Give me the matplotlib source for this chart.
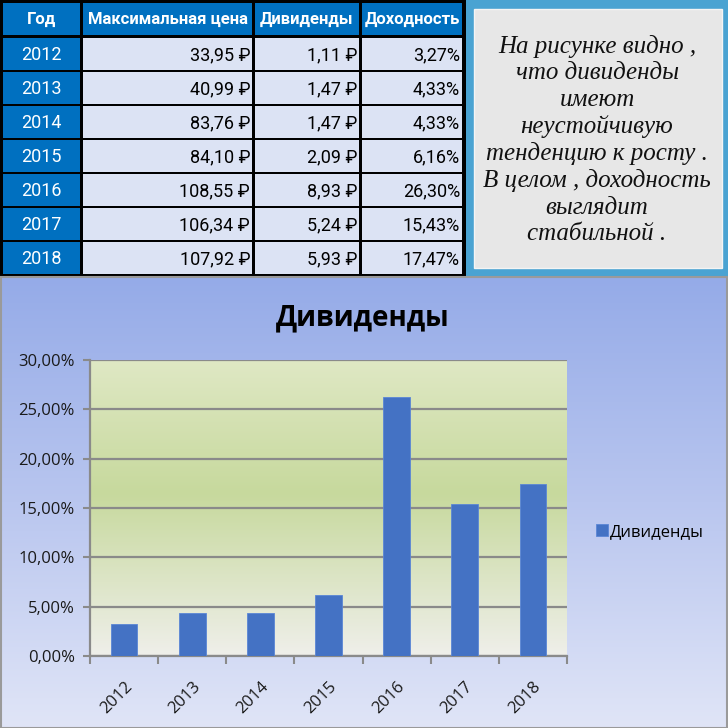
import numpy as np
from matplotlib import pyplot as plt
from matplotlib.patches import Rectangle
from matplotlib.colors import LinearSegmentedColormap
from matplotlib.ticker import FuncFormatter, FixedLocator

plt.rcParams['font.family'] = ['Open Sans', 'DejaVu Sans']

# Table data
years = ['2012', '2013', '2014', '2015', '2016', '2017', '2018']
max_price = [33.95, 40.99, 83.76, 84.10, 108.55, 106.34, 107.92]
dividends = [1.11, 1.47, 1.47, 2.09, 8.93, 5.24, 5.93]
yields = [3.27, 4.33, 4.33, 6.16, 26.30, 15.43, 17.47]  # in %
headers = ['Год', 'Максимальная цена', 'Дивиденды', 'Доходность']

note_lines = ['На рисунке видно ,', 'что дивиденды', 'имеют', 'неустойчивую',
              'тенденцию к росту .', 'В целом , доходность', 'выглядит',
              'стабильной .']

chart_title = 'Дивиденды'
series_name = 'Дивиденды'
y_ticks = [0, 5, 10, 15, 20, 25, 30]


def rub(v):
    return f'{v:.2f}'.replace('.', ',') + ' ₽'


def pct(v):
    return f'{v:.2f}'.replace('.', ',') + '%'


W = 728
fig = plt.figure(figsize=(7.28, 7.28), dpi=100)
bg = fig.add_axes([0, 0, 1, 1])
bg.set_xlim(0, W)
bg.set_ylim(W, 0)
bg.axis('off')

narrow = ['Roboto', 'DejaVu Sans']

# ---- table (top left) ----
bg.add_patch(Rectangle((0, 0), 466, 277, color='black', lw=0))
cols = [(3, 80), (83, 252), (255, 359), (362, 462)]
head_blue = '#0070c0'
cell_fill = '#dce3f4'
for (x0, x1), h in zip(cols, headers):
    bg.add_patch(Rectangle((x0, 3), x1 - x0, 32, color=head_blue, lw=0))
    bg.text((x0 + x1) / 2, 19, h, color='white', fontsize=12, fontweight='bold',
            ha='center', va='center', family=narrow)

for i, yr in enumerate(years):
    y0 = 38 + i * 34
    row = [yr, rub(max_price[i]), rub(dividends[i]), pct(yields[i])]
    for j, ((x0, x1), s) in enumerate(zip(cols, row)):
        if j == 0:
            bg.add_patch(Rectangle((x0, y0), x1 - x0, 32, color=head_blue, lw=0))
            bg.text((x0 + x1) / 2, y0 + 17, s, color='white', fontsize=13,
                    ha='center', va='center', family=narrow)
        else:
            bg.add_patch(Rectangle((x0, y0), x1 - x0, 32, color=cell_fill, lw=0))
            bg.text(x1 - 2, y0 + 17, s, color='black', fontsize=13,
                    ha='right', va='center', family=narrow)

# ---- note box (top right) ----
bg.add_patch(Rectangle((466, 0), W - 466, 277, color='#4aa3d2', lw=0))
bg.add_patch(Rectangle((474, 9), 248, 259, facecolor='#e7e7e7',
                       edgecolor='#f4f4f4', lw=1))
bg.text(597, 140, '\n'.join(note_lines), ha='center', va='center',
        fontsize=18, style='italic', linespacing=1.24,
        family=['Liberation Serif', 'DejaVu Serif'], color='#111111')

# ---- chart background ----
grad = np.linspace(0, 1, 256).reshape(-1, 1)
bg_cmap = LinearSegmentedColormap.from_list('bgc', ['#95abe8', '#b9c6ef', '#e0e5f7'])
bg.imshow(grad, cmap=bg_cmap, extent=(0, W, W, 277), origin='upper',
          aspect='auto', zorder=0)
bg.add_patch(Rectangle((0.5, 277), W - 2, W - 277.5, fill=False,
                       edgecolor='#9a9a9a', lw=1.5))
bg.set_xlim(0, W)
bg.set_ylim(W, 0)

bg.text(363, 318, chart_title, ha='center', va='center', fontsize=20,
        fontweight='bold', color='black')

# ---- chart ----
px0, px1, py0, py1 = 90, 567, 360, 656
ax = fig.add_axes([px0 / W, (W - py1) / W, (px1 - px0) / W, (py1 - py0) / W])
ax.set_facecolor('none')
x = np.arange(len(years))

area_cmap = LinearSegmentedColormap.from_list(
    'area', [(0, '#efefea'), (0.55, '#c7d99d'), (1, '#dfe8c4')])
ax.imshow(np.linspace(0, 1, 256).reshape(-1, 1), cmap=area_cmap,
          extent=(-0.5, len(years) - 0.5, 0, 30), origin='lower',
          aspect='auto', zorder=0)

ax.bar(x, yields, width=0.39, color='#4472c4', edgecolor='#5a86d6',
       lw=0.6, zorder=3, label=series_name)

ax.set_xlim(-0.5, len(years) - 0.5)
ax.set_ylim(0, 30)
ax.set_yticks(y_ticks)
ax.yaxis.set_major_formatter(FuncFormatter(lambda v, p: pct(v)))
ax.yaxis.grid(True, color='#8a8a8a', lw=1.6, zorder=1)
ax.set_axisbelow(True)

ax.set_xticks(x)
ax.set_xticklabels(years, rotation=45, ha='right', rotation_mode='anchor')
ax.xaxis.set_minor_locator(FixedLocator(np.arange(-0.5, len(years), 1)))
ax.tick_params(axis='x', which='major', length=0, pad=16, labelsize=12,
               labelcolor='#1a1a1a')
ax.tick_params(axis='x', which='minor', length=6, width=1.5, color='#8a8a8a',
               direction='out')
ax.tick_params(axis='y', length=5, width=1.5, color='#8a8a8a', labelsize=12,
               labelcolor='#1a1a1a', pad=6)
for s in ['top', 'right']:
    ax.spines[s].set_visible(False)
for s in ['left', 'bottom']:
    ax.spines[s].set_color('#8a8a8a')
    ax.spines[s].set_linewidth(1.6)

ax.legend(loc='center left', bbox_to_anchor=((596 - px0) / (px1 - px0),
                                              (py1 - 532) / (py1 - py0)),
          frameon=False, fontsize=12, handlelength=0.7, handleheight=0.7,
          handletextpad=0.15, borderpad=0, borderaxespad=0)

fig.savefig('out.png', dpi=100)
